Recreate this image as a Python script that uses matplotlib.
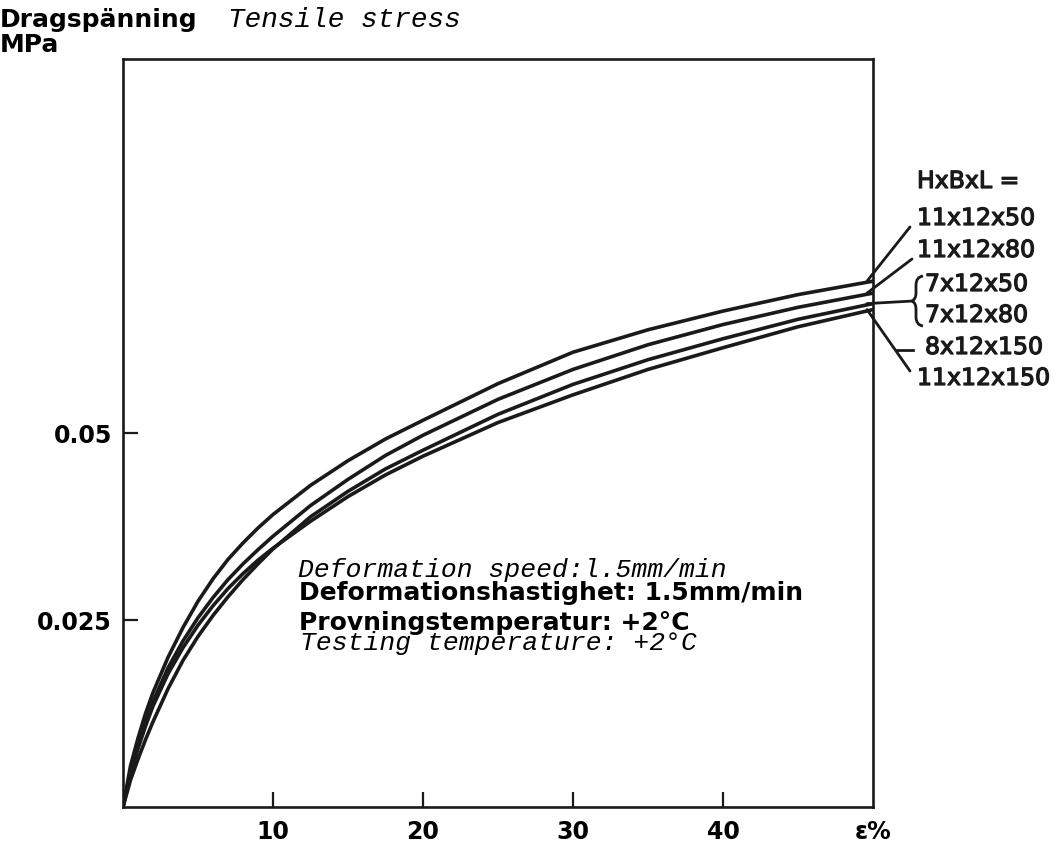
import matplotlib
matplotlib.use('Agg')
import matplotlib.pyplot as plt
import matplotlib.patheffects as pe
from matplotlib.patches import ConnectionPatch, PathPatch
from matplotlib.path import Path

# strain in %, stress in MPa
strain = [0, 0.5, 1, 1.5, 2, 3, 4, 5, 6, 7, 8, 9, 10, 12.5, 15, 17.5, 20,
          25, 30, 35, 40, 45, 50]
stress_11x12x50 = [0, .0055, .0092, .0125, .0153, .0200, .0240, .0275, .0305, .0331, .0353,
                   .0373, .0391, .0430, .0463, .0492, .0517, .0566, .0608, .0638, .0663,
                   .0685, .0703]
stress_11x12x80 = [0, .0047, .0082, .0113, .0141, .0186, .0222, .0253, .0280, .0304, .0325,
                   .0344, .0362, .0403, .0438, .0470, .0497, .0545, .0585, .0618, .0645,
                   .0668, .0687]
stress_7x12 = [0, .0036, .0064, .0090, .0114, .0158, .0196, .0228, .0256, .0281, .0304,
               .0325, .0345, .0388, .0422, .0452, .0477, .0525, .0565, .0598, .0626,
               .0652, .0673]
stress_x12x150 = [0, .0044, .0078, .0108, .0135, .0178, .0213, .0243, .0269, .0292, .0312,
                  .0330, .0346, .0382, .0415, .0444, .0469, .0514, .0551, .0585, .0614,
                  .0642, .0665]

xticks = [10, 20, 30, 40, 50]
xticklabels = ['10', '20', '30', '40', 'ε%']
yticks = [0.025, 0.05]
yticklabels = ['0.025', '0.05']

W, H = 1057, 854
INK = '#1a1a1a'


def fx(px):
    return px / W


def fy(py):
    return 1 - py / H


fig = plt.figure(figsize=(W / 100, H / 100), dpi=100)
ax = fig.add_axes([fx(123), fy(808), fx(873) - fx(123), fy(60) - fy(808)])

for s in [stress_11x12x50, stress_11x12x80, stress_7x12, stress_x12x150]:
    ax.plot(strain, s, color=INK, lw=2.6, solid_capstyle='round', solid_joinstyle='round')

ax.set_xlim(0, 50)
ax.set_ylim(0, 0.1)
for sp in ax.spines.values():
    sp.set_linewidth(1.9)
    sp.set_color(INK)

ax.set_xticks(xticks)
ax.set_xticklabels(xticklabels)
ax.set_yticks(yticks)
ax.set_yticklabels(yticklabels)
ax.tick_params(direction='in', length=11, width=1.6, labelsize=17, color=INK)
ax.tick_params(axis='x', pad=9)
ax.tick_params(axis='y', pad=8)
for lab in ax.get_xticklabels() + ax.get_yticklabels():
    lab.set_fontweight('bold')
ax.xaxis.get_major_ticks()[-1].tick1line.set_visible(False)

mono = 'Liberation Mono'
# axis title
fig.text(fx(0), fy(27), 'Dragspänning', fontsize=18, fontweight='bold', va='baseline')
fig.text(fx(0), fy(52), 'MPa', fontsize=18, fontweight='bold', va='baseline')
fig.text(fx(228), fy(27), 'Tensile stress', fontsize=20, family=mono,
         style='italic', va='baseline')

# test conditions
fig.text(fx(298), fy(577), 'Deformation speed:l.5mm/min', fontsize=19, family=mono,
         style='italic', va='baseline')
fig.text(fx(299), fy(600), 'Deformationshastighet: 1.5mm/min', fontsize=18,
         fontweight='bold', va='baseline')
fig.text(fx(299), fy(630), 'Provningstemperatur: +2°C', fontsize=18,
         fontweight='bold', va='baseline')
fig.text(fx(300), fy(650), 'Testing temperature: +2°C', fontsize=19, family=mono,
         style='italic', va='baseline')

# curve labels
thick = [pe.withStroke(linewidth=0.9, foreground=INK)]
lab_kw = dict(fontsize=17, va='center', ha='left', color=INK, path_effects=thick)
fig.text(fx(917), fy(182), 'HxBxL =', **lab_kw)
fig.text(fx(917), fy(219), '11x12x50', **lab_kw)
fig.text(fx(917), fy(251), '11x12x80', **lab_kw)
fig.text(fx(925), fy(285), '7x12x50', **lab_kw)
fig.text(fx(925), fy(316), '7x12x80', **lab_kw)
fig.text(fx(925), fy(348), '8x12x150', **lab_kw)
fig.text(fx(917), fy(379), '11x12x150', **lab_kw)

# brace grouping the two 7x12 labels
brace_px = [(923, 277), (916, 278), (916, 286), (916, 294),
            (916, 300), (912, 302), (912, 302),
            (916, 304), (916, 310), (916, 318),
            (916, 326), (923, 327)]
codes = [Path.MOVETO, Path.CURVE3, Path.CURVE3, Path.LINETO,
         Path.CURVE3, Path.CURVE3, Path.MOVETO,
         Path.CURVE3, Path.CURVE3, Path.LINETO,
         Path.CURVE3, Path.CURVE3]
brace = Path([(fx(x), fy(y)) for x, y in brace_px], codes)
fig.add_artist(PathPatch(brace, transform=fig.transFigure, fill=False,
                         edgecolor=INK, lw=2.0))

# leader lines from curve ends to labels
leaders = [
    (49.6, stress_11x12x50[-1], 910, 228),
    (49.6, stress_11x12x80[-1], 912, 260),
    (49.6, stress_7x12[-1], 913, 302),
    (49.6, stress_x12x150[-1], 910, 372),
]
for x0, y0, px, py in leaders:
    con = ConnectionPatch(xyA=(x0, y0), coordsA='data', axesA=ax,
                          xyB=(fx(px), fy(py)), coordsB='figure fraction',
                          color=INK, lw=2.0)
    fig.add_artist(con)
fig.add_artist(plt.Line2D([fx(897), fx(913)], [fy(351), fy(351)], color=INK, lw=2.0))

fig.savefig('out.png', dpi=100)
